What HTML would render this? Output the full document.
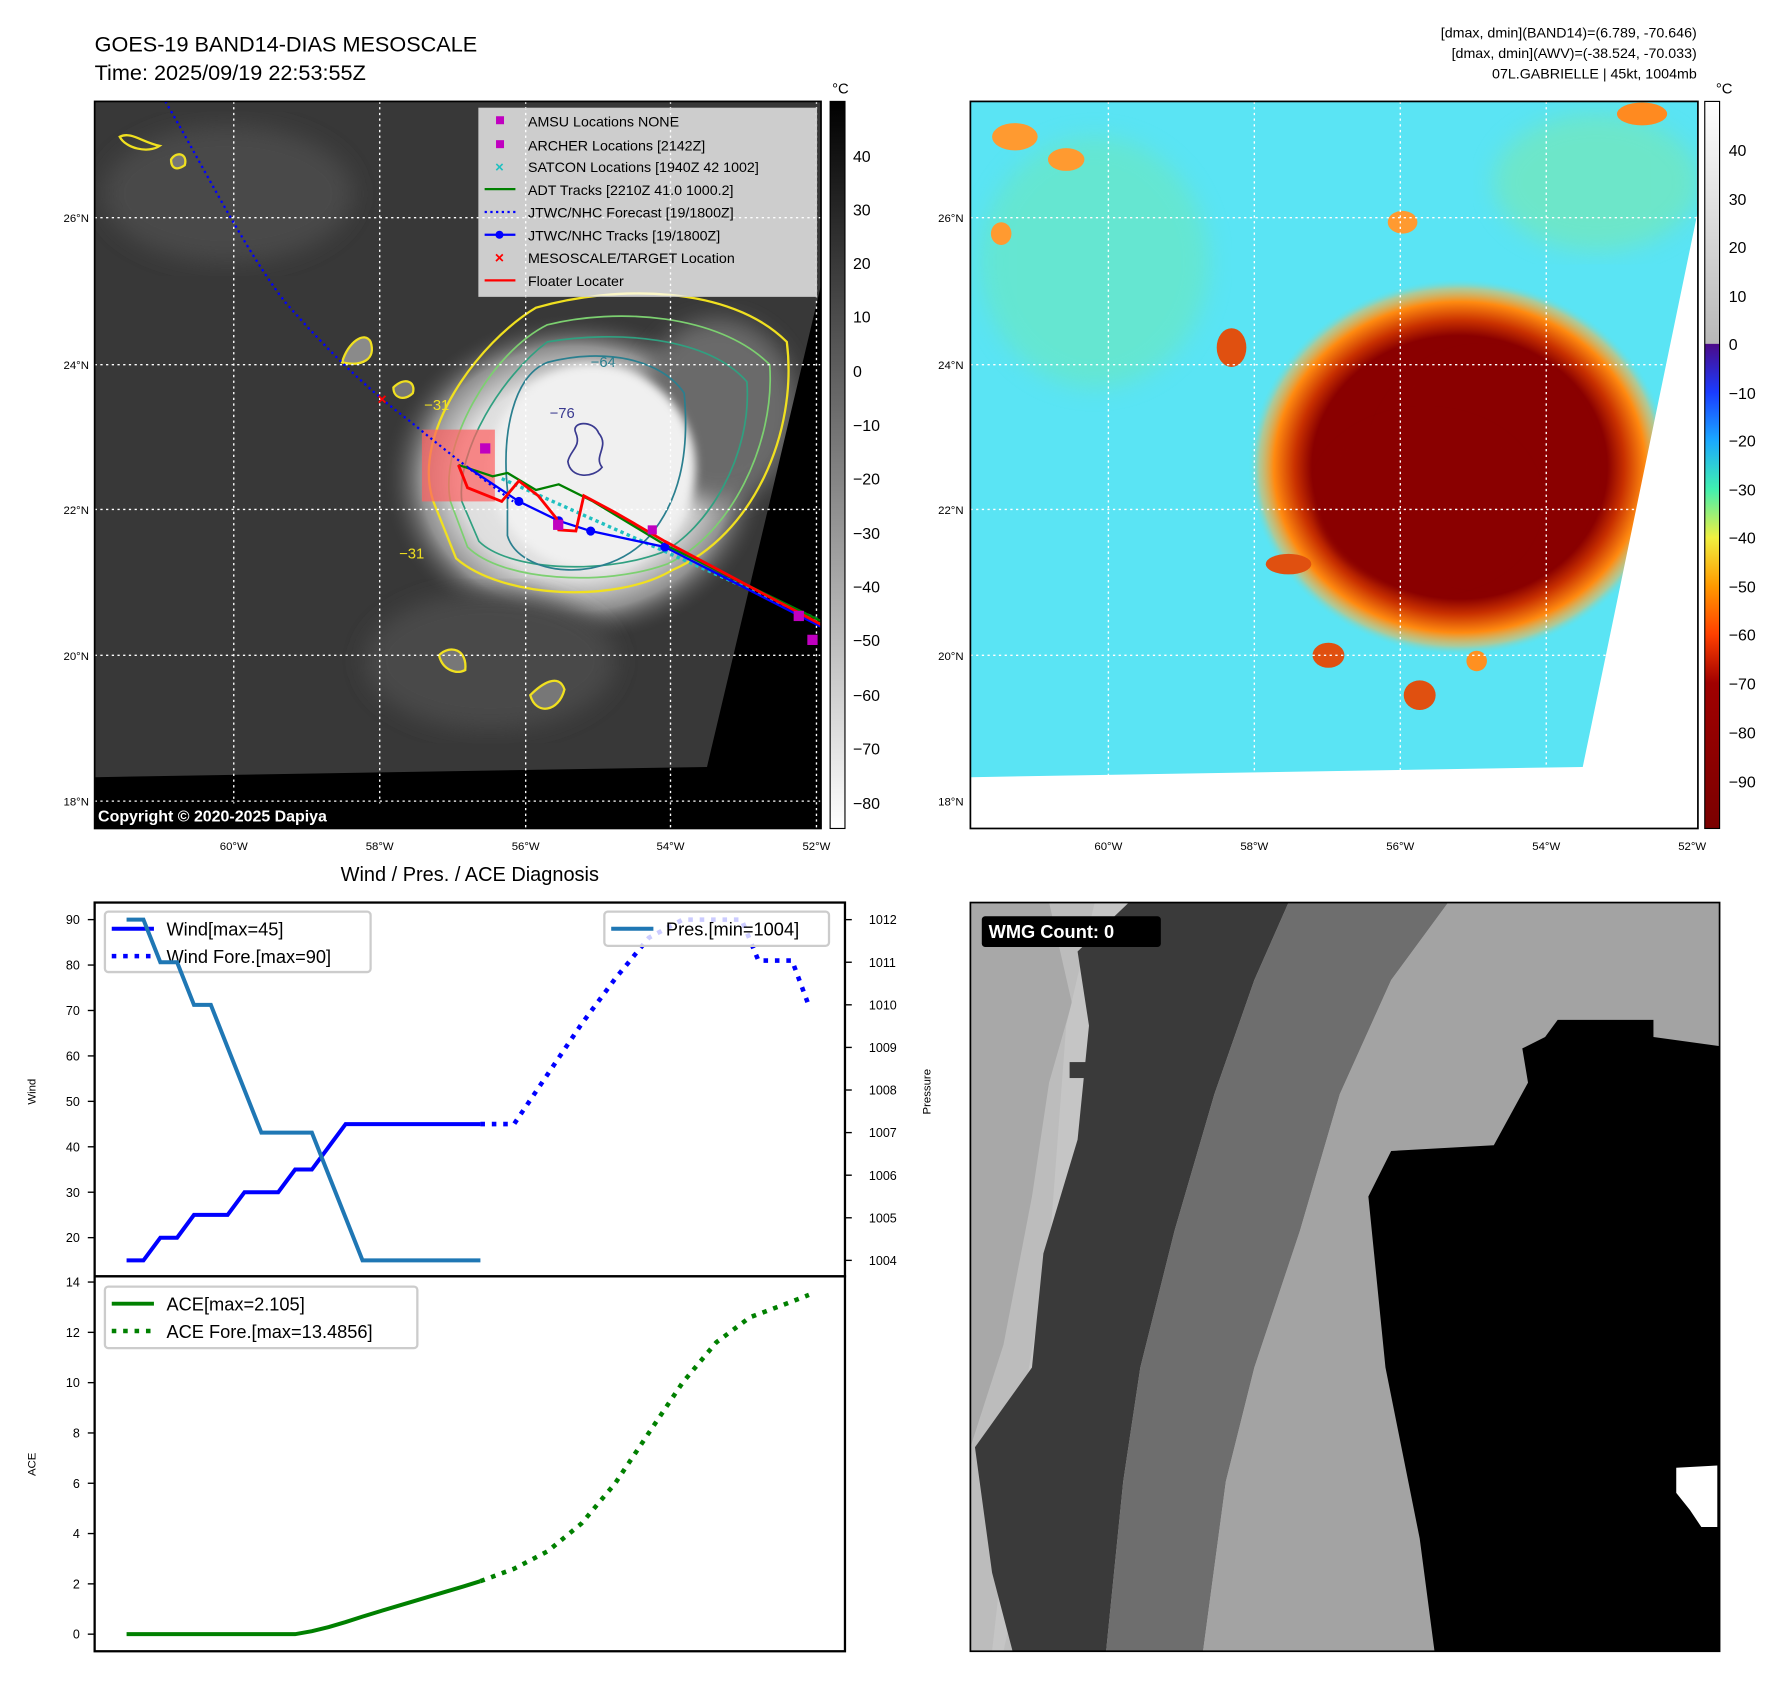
<!DOCTYPE html>
<html><head><meta charset="utf-8">
<style>
html,body{margin:0;padding:0;background:#fff;}
svg{display:block;font-family:"Liberation Sans","DejaVu Sans",sans-serif;}
</style></head>
<body>
<svg id="fig" width="1788" height="1690" viewBox="0 0 1568 1483" preserveAspectRatio="none" xmlns="http://www.w3.org/2000/svg">
<defs>
  <linearGradient id="cbGray" x1="0" y1="0" x2="0" y2="1">
    <stop offset="0" stop-color="#000"/><stop offset="1" stop-color="#fff"/>
  </linearGradient>
  <linearGradient id="cbColor" x1="0" y1="0" x2="0" y2="1">
    <stop offset="0" stop-color="#ffffff"/>
    <stop offset="0.333" stop-color="#b8b8b8"/>
    <stop offset="0.334" stop-color="#4b0a8a"/>
    <stop offset="0.40" stop-color="#1a3cff"/>
    <stop offset="0.466" stop-color="#1aa8ff"/>
    <stop offset="0.533" stop-color="#40f0b0"/>
    <stop offset="0.60" stop-color="#f0f040"/>
    <stop offset="0.666" stop-color="#ff9a00"/>
    <stop offset="0.733" stop-color="#ff4000"/>
    <stop offset="0.80" stop-color="#a00000"/>
    <stop offset="1" stop-color="#7a0000"/>
  </linearGradient>
  <radialGradient id="stormGray" cx="0.5" cy="0.5" r="0.5">
    <stop offset="0" stop-color="#f0f0f0"/><stop offset="0.6" stop-color="#dedede"/>
    <stop offset="0.8" stop-color="#909090"/><stop offset="1" stop-color="#383838" stop-opacity="0"/>
  </radialGradient>
  <radialGradient id="stormColor" cx="0.5" cy="0.5" r="0.5">
    <stop offset="0" stop-color="#8a0000"/><stop offset="0.7" stop-color="#8a0000"/>
    <stop offset="0.78" stop-color="#c83000"/><stop offset="0.88" stop-color="#ff8a10"/>
    <stop offset="0.95" stop-color="#ffb040" stop-opacity="0.5"/><stop offset="1" stop-color="#60e0e0" stop-opacity="0"/>
  </radialGradient>
  <filter id="blur4"><feGaussianBlur stdDeviation="4"/></filter>
  <filter id="blur10"><feGaussianBlur stdDeviation="10"/></filter>
  <clipPath id="clipL"><rect x="83" y="89" width="637" height="638"/></clipPath>
  <clipPath id="clipR"><rect x="851" y="89" width="638" height="638"/></clipPath>
</defs>

<!-- Titles -->
<text x="83" y="45" font-size="19">GOES-19 BAND14-DIAS MESOSCALE</text>
<text x="83" y="70" font-size="19">Time: 2025/09/19 22:53:55Z</text>
<g font-size="12.5" text-anchor="end">
  <text x="1488" y="33">[dmax, dmin](BAND14)=(6.789, -70.646)</text>
  <text x="1488" y="51">[dmax, dmin](AWV)=(-38.524, -70.033)</text>
  <text x="1488" y="69">07L.GABRIELLE | 45kt, 1004mb</text>
</g>

<!-- LEFT MAP -->
<g clip-path="url(#clipL)">
  <rect x="83" y="89" width="637" height="638" fill="#383838"/>
  <ellipse cx="200" cy="170" rx="110" ry="60" fill="#484848" filter="url(#blur10)"/>
  <ellipse cx="505" cy="420" rx="170" ry="145" fill="url(#stormGray)"/>
  <ellipse cx="430" cy="580" rx="110" ry="60" fill="#4a4a4a" filter="url(#blur10)"/>
  <ellipse cx="630" cy="360" rx="70" ry="80" fill="#6a6a6a" filter="url(#blur10)"/>
  <ellipse cx="520" cy="410" rx="90" ry="90" fill="#f0f0f0" filter="url(#blur4)"/>
  <path d="M380,440 C360,380 420,300 470,270 C540,250 640,250 690,300 C700,380 660,470 590,500 C540,530 440,525 400,490 Z" fill="none" stroke="#f0e020" stroke-width="2"/>
  <path d="M395,440 C385,390 430,310 480,285 C540,270 630,275 675,320 C680,390 640,470 585,495 C530,515 440,510 410,480 Z" fill="none" stroke="#7cd070" stroke-width="1.5"/>
  <path d="M405,440 C400,395 440,330 480,300 C540,290 620,295 655,335 C660,400 620,465 580,485 C525,505 445,500 420,475 Z" fill="none" stroke="#30a080" stroke-width="1.5"/>
  <path d="M445,430 C440,380 450,330 480,318 C530,305 580,315 600,345 C605,400 595,440 570,470 C530,515 455,505 445,470 Z" fill="none" stroke="#2a7f8f" stroke-width="1.5"/>
  <path d="M505,380 C500,370 520,368 525,380 C535,392 520,400 528,410 C520,420 500,420 498,405 C500,395 510,392 505,380 Z" fill="none" stroke="#3a3a90" stroke-width="1.5"/>
  <text x="482" y="367" font-size="13" fill="#3a3a90">−76</text>
  <text x="518" y="322" font-size="13" fill="#2a7f8f">−64</text>
  <text x="372" y="360" font-size="13" fill="#f0e020">−31</text>
  <text x="350" y="490" font-size="13" fill="#f0e020">−31</text>
  <path d="M300,318 C305,300 320,290 325,300 C330,315 318,322 300,318 Z" fill="#8a8a8a" stroke="#f0e020" stroke-width="2"/>
  <path d="M385,575 C395,565 410,570 408,588 C400,592 388,588 385,575 Z" fill="#777" stroke="#f0e020" stroke-width="2"/>
  <path d="M465,610 C475,600 490,590 495,605 C490,625 470,628 465,610 Z" fill="#777" stroke="#f0e020" stroke-width="2"/>
  <path d="M105,120 C115,115 125,125 140,128 C130,135 110,130 105,120 Z" fill="none" stroke="#f0e020" stroke-width="2"/>
  <path d="M150,140 C155,132 165,135 162,145 C155,150 150,148 150,140 Z" fill="#777" stroke="#f0e020" stroke-width="2"/>
  <path d="M345,340 C355,330 365,335 362,345 C355,352 345,350 345,340 Z" fill="#777" stroke="#f0e020" stroke-width="2"/>
  <polygon points="83,682 620,673 720,250 720,727 83,727" fill="#000"/>
  <g stroke="#fff" stroke-width="1.2" stroke-dasharray="2 3">
    <line x1="205" y1="89" x2="205" y2="727"/><line x1="333" y1="89" x2="333" y2="727"/>
    <line x1="461" y1="89" x2="461" y2="727"/><line x1="588" y1="89" x2="588" y2="727"/>
    <line x1="716" y1="89" x2="716" y2="727"/>
    <line x1="83" y1="191" x2="720" y2="191"/><line x1="83" y1="320" x2="720" y2="320"/>
    <line x1="83" y1="447" x2="720" y2="447"/><line x1="83" y1="575" x2="720" y2="575"/>
    <line x1="83" y1="703" x2="720" y2="703"/>
  </g>
  <rect x="370" y="377" width="64" height="63" fill="#ff6060" fill-opacity="0.7"/>
  <path d="M145,89 C175,140 215,220 250,265 C285,305 320,340 360,370 C390,395 420,418 450,440" fill="none" stroke="#0000ff" stroke-width="2" stroke-dasharray="2 3"/>
  <path d="M440,420 L720,545" stroke="#20c0c0" stroke-width="3" stroke-dasharray="3 3" fill="none"/>
  <polyline points="402,408 432,418 445,415 470,430 490,425 520,440 583,478 720,545" fill="none" stroke="#008000" stroke-width="2"/>
  <polyline points="410,410 455,440 490,457 518,466 583,480 720,550" fill="none" stroke="#0000ff" stroke-width="2"/>
  <g fill="#0000ff"><circle cx="455" cy="440" r="4"/><circle cx="490" cy="457" r="4"/><circle cx="518" cy="466" r="4"/><circle cx="583" cy="480" r="4"/><circle cx="702" cy="541" r="4"/></g>
  <polyline points="402,408 410,428 440,440 455,422 472,435 488,455 490,465 505,466 512,435 540,450 583,475 720,548" fill="none" stroke="#ff0000" stroke-width="2.5"/>
  <g fill="#c000c0"><rect x="421" y="389" width="9" height="9"/><rect x="485" y="456" width="9" height="9"/><rect x="568" y="461" width="8" height="8"/><rect x="696" y="536" width="9" height="9"/><rect x="708" y="557" width="9" height="9"/></g>
  <text x="335" y="355" font-size="14" fill="#ff0000" text-anchor="middle" font-weight="bold">×</text>
  <rect x="83" y="705" width="272" height="22" fill="#000"/>
  <text x="86" y="721" font-size="14" font-weight="bold" fill="#fff">Copyright © 2020-2025 Dapiya</text>
</g>
<rect x="83" y="89" width="637" height="638" fill="none" stroke="#000" stroke-width="1.5"/>
<g font-size="12.5">
  <rect x="420" y="95" width="296" height="165" fill="#fff" fill-opacity="0.75" stroke="#ccc"/>
  <rect x="435" y="102" width="7" height="7" fill="#c000c0"/><text x="463" y="111">AMSU Locations NONE</text>
  <rect x="435" y="123" width="7" height="7" fill="#c000c0"/><text x="463" y="132">ARCHER Locations [2142Z]</text>
  <text x="438" y="151" fill="#20c0c0" text-anchor="middle" font-size="13" font-weight="bold">×</text><text x="463" y="151">SATCON Locations [1940Z 42 1002]</text>
  <line x1="425" y1="166" x2="452" y2="166" stroke="#008000" stroke-width="2"/><text x="463" y="171">ADT Tracks [2210Z 41.0 1000.2]</text>
  <line x1="425" y1="186" x2="452" y2="186" stroke="#0000ff" stroke-width="2" stroke-dasharray="2 3"/><text x="463" y="191">JTWC/NHC Forecast [19/1800Z]</text>
  <line x1="425" y1="206" x2="452" y2="206" stroke="#0000ff" stroke-width="2"/><circle cx="438" cy="206" r="3.5" fill="#0000ff"/><text x="463" y="211">JTWC/NHC Tracks [19/1800Z]</text>
  <text x="438" y="231" fill="#ff0000" text-anchor="middle" font-size="14" font-weight="bold">×</text><text x="463" y="231">MESOSCALE/TARGET Location</text>
  <line x1="425" y1="246" x2="452" y2="246" stroke="#ff0000" stroke-width="2"/><text x="463" y="251">Floater Locater</text>
</g>
<g font-size="10" text-anchor="end">
  <text x="78" y="195">26°N</text><text x="78" y="324">24°N</text><text x="78" y="451">22°N</text><text x="78" y="579">20°N</text><text x="78" y="707">18°N</text>
</g>
<g font-size="10" text-anchor="middle">
  <text x="205" y="746">60°W</text><text x="333" y="746">58°W</text><text x="461" y="746">56°W</text><text x="588" y="746">54°W</text><text x="716" y="746">52°W</text>
</g>
<g>
  <rect x="728" y="89" width="13" height="638" fill="url(#cbGray)" stroke="#000" stroke-width="1"/>
  <text x="737" y="82" font-size="13" text-anchor="middle">°C</text>
  <g font-size="14">
    <text x="748" y="142">40</text><text x="748" y="189">30</text><text x="748" y="236">20</text><text x="748" y="283">10</text><text x="748" y="331">0</text>
    <text x="748" y="378">−10</text><text x="748" y="425">−20</text><text x="748" y="473">−30</text><text x="748" y="520">−40</text><text x="748" y="567">−50</text>
    <text x="748" y="615">−60</text><text x="748" y="662">−70</text><text x="748" y="710">−80</text>
  </g>
</g>

<!-- RIGHT MAP -->
<g clip-path="url(#clipR)">
  <rect x="851" y="89" width="638" height="638" fill="#5ae4f4"/>
  <ellipse cx="960" cy="230" rx="100" ry="110" fill="#70e8b0" filter="url(#blur10)" opacity="0.5"/>
  <ellipse cx="1400" cy="160" rx="90" ry="60" fill="#80e8a0" filter="url(#blur10)" opacity="0.5"/>
  <ellipse cx="1280" cy="410" rx="185" ry="165" fill="url(#stormColor)"/>
  <ellipse cx="1300" cy="410" rx="95" ry="100" fill="#8a0000" filter="url(#blur4)"/>
  <ellipse cx="1250" cy="440" rx="95" ry="75" fill="#8a0000" filter="url(#blur4)"/>
  <ellipse cx="1080" cy="305" rx="13" ry="17" fill="#e05010"/>
  <ellipse cx="1130" cy="495" rx="20" ry="9" fill="#e05010"/>
  <ellipse cx="1165" cy="575" rx="14" ry="11" fill="#e05010"/>
  <ellipse cx="1245" cy="610" rx="14" ry="13" fill="#e05010"/>
  <ellipse cx="1295" cy="580" rx="9" ry="9" fill="#ff9020"/>
  <ellipse cx="890" cy="120" rx="20" ry="12" fill="#ff9a30"/>
  <ellipse cx="935" cy="140" rx="16" ry="10" fill="#ff9a30"/>
  <ellipse cx="1230" cy="195" rx="13" ry="10" fill="#ff9a30"/>
  <ellipse cx="1440" cy="100" rx="22" ry="10" fill="#ff8a20"/>
  <ellipse cx="878" cy="205" rx="9" ry="10" fill="#ff9a30"/>
  <polygon points="851,682 1388,673 1489,185 1489,727 851,727" fill="#fff"/>
  <g stroke="#fff" stroke-width="1.2" stroke-dasharray="2 3">
    <line x1="972" y1="89" x2="972" y2="727"/><line x1="1100" y1="89" x2="1100" y2="727"/>
    <line x1="1228" y1="89" x2="1228" y2="727"/><line x1="1356" y1="89" x2="1356" y2="727"/>
    <line x1="851" y1="191" x2="1489" y2="191"/><line x1="851" y1="320" x2="1489" y2="320"/>
    <line x1="851" y1="447" x2="1489" y2="447"/><line x1="851" y1="575" x2="1489" y2="575"/>
  </g>
</g>
<rect x="851" y="89" width="638" height="638" fill="none" stroke="#000" stroke-width="1.5"/>
<g font-size="10" text-anchor="end">
  <text x="845" y="195">26°N</text><text x="845" y="324">24°N</text><text x="845" y="451">22°N</text><text x="845" y="579">20°N</text><text x="845" y="707">18°N</text>
</g>
<g font-size="10" text-anchor="middle">
  <text x="972" y="746">60°W</text><text x="1100" y="746">58°W</text><text x="1228" y="746">56°W</text><text x="1356" y="746">54°W</text><text x="1484" y="746">52°W</text>
</g>
<g>
  <rect x="1495" y="89" width="13" height="638" fill="url(#cbColor)" stroke="#000" stroke-width="1"/>
  <text x="1512" y="82" font-size="13" text-anchor="middle">°C</text>
  <g font-size="14">
    <text x="1516" y="137">40</text><text x="1516" y="180">30</text><text x="1516" y="222">20</text><text x="1516" y="265">10</text><text x="1516" y="307">0</text>
    <text x="1516" y="350">−10</text><text x="1516" y="392">−20</text><text x="1516" y="435">−30</text><text x="1516" y="477">−40</text><text x="1516" y="520">−50</text>
    <text x="1516" y="562">−60</text><text x="1516" y="605">−70</text><text x="1516" y="648">−80</text><text x="1516" y="691">−90</text>
  </g>
</g>

<!-- WMG PANEL -->
<g>
  <rect x="851" y="792" width="657" height="657" fill="#bdbdbd"/>
  <polygon points="851,792 960,792 935,900 920,1100 890,1270 870,1449 851,1449" fill="#a8a8a8"/>
  <polygon points="920,792 990,792 965,900 955,940 975,960 945,1100 920,1270 880,1449 851,1449 851,1270 880,1180 905,1050 920,950 940,880" fill="#c9c9c9" opacity="0.6"/>
  <polygon points="990,792 1130,792 1100,860 1065,960 1030,1080 1000,1200 985,1300 970,1449 888,1449 870,1380 855,1270 905,1200 915,1100 945,1000 955,900 945,835" fill="#3a3a3a"/>
  <polygon points="1130,792 1270,792 1220,860 1175,960 1140,1080 1100,1200 1075,1300 1055,1449 970,1449 985,1300 1000,1200 1030,1080 1065,960 1100,860" fill="#6e6e6e"/>
  <polygon points="1270,792 1508,792 1508,1449 1055,1449 1075,1300 1100,1200 1140,1080 1175,960 1220,860" fill="#a3a3a3"/>
  <polygon points="1366,895 1450,895 1450,910 1508,918 1508,1449 1258,1449 1245,1350 1225,1250 1215,1200 1205,1100 1200,1050 1220,1010 1310,1005 1340,950 1335,920 1355,910" fill="#000"/>
  <polygon points="1470,1288 1506,1286 1506,1340 1492,1340 1482,1325 1470,1310" fill="#fff"/>
  <rect x="938" y="932" width="14" height="14" fill="#3a3a3a"/>
  <rect x="851" y="792" width="657" height="657" fill="none" stroke="#000" stroke-width="1.5"/>
  <rect x="861" y="804" width="157" height="27" rx="3" fill="#000"/>
  <text x="867" y="823" font-size="16" font-weight="bold" fill="#fff">WMG Count: 0</text>
</g>

<text x="412" y="773" font-size="17.5" text-anchor="middle">Wind / Pres. / ACE Diagnosis</text>
<g id="diag"></g>

<script>
const windObsHours=[0,6,12,18,24,30,36,42,48,54,60,66,72,78,84,90,96,102,108,114,120,126];
const windObsValues=[15,15,20,20,25,25,25,30,30,30,35,35,40,45,45,45,45,45,45,45,45,45];
const windForeHours=[126,138,150,162,174,186,198,219,225,237,243];
const windForeValues=[45,45,56,67,77,86,90,90,81,81,71];
const presValues=[1012,1012,1011,1011,1010,1010,1009,1008,1007,1007,1007,1007,1006,1005,1004,1004,1004,1004,1004,1004,1004,1004];
const aceObsValues=[0,0,0,0,0,0,0,0,0,0,0,0.12,0.28,0.48,0.7,0.9,1.1,1.3,1.5,1.7,1.9,2.105];
const aceForeHours=[126,138,150,162,174,186,198,210,222,234,243];
const aceForeValues=[2.105,2.6,3.3,4.4,6.0,8.0,10.0,11.6,12.6,13.1,13.49];
const windTicks=[20,30,40,50,60,70,80,90];
const presTicks=[1004,1005,1006,1007,1008,1009,1010,1011,1012];
const aceTicks=[0,2,4,6,8,10,12,14];

const NS='http://www.w3.org/2000/svg';
const g=document.getElementById('diag');
const X=h=>111+h*2.4625;
const YW=v=>1106-(v-15)*3.987;
const YP=p=>1106-(p-1004)*37.375;
const YA=a=>1434-a*22.07;
function mk(tag,attrs,parent){const e=document.createElementNS(NS,tag);for(const k in attrs)e.setAttribute(k,attrs[k]);(parent||g).appendChild(e);return e;}
function pts(hs,vs,fy){return hs.map((h,i)=>X(h).toFixed(1)+','+fy(vs[i]).toFixed(1)).join(' ');}

let f1=mk('rect',{x:83,y:792,width:658,height:328,fill:'none',stroke:'#000','stroke-width':2});


let f2=mk('rect',{x:83,y:1120,width:658,height:329,fill:'none',stroke:'#000','stroke-width':2});



windTicks.forEach(v=>{
  const t=mk('text',{x:70,y:YW(v)+4,'font-size':11,'text-anchor':'end'});t.textContent=v;
  
  
  mk('line',{x1:77,x2:83,y1:YW(v),y2:YW(v),stroke:'#000','stroke-width':1.2});
});
presTicks.forEach(v=>{
  const t=mk('text',{x:762,y:YP(v)+4,'font-size':11});t.textContent=v;
  
  
  mk('line',{x1:741,x2:747,y1:YP(v),y2:YP(v),stroke:'#000','stroke-width':1.2});
});
aceTicks.forEach(v=>{
  const t=mk('text',{x:70,y:YA(v)+4,'font-size':11,'text-anchor':'end'});t.textContent=v;
  
  
  mk('line',{x1:77,x2:83,y1:YA(v),y2:YA(v),stroke:'#000','stroke-width':1.2});
});
let yl=mk('text',{x:0,y:0,'font-size':10,'text-anchor':'middle',transform:'translate(31,958) rotate(-90)'});yl.textContent='Wind';


let pl=mk('text',{x:0,y:0,'font-size':10,'text-anchor':'middle',transform:'translate(816,958) rotate(-90)'});pl.textContent='Pressure';


let al=mk('text',{x:0,y:0,'font-size':10,'text-anchor':'middle',transform:'translate(31,1285) rotate(-90)'});al.textContent='ACE';



let wl=mk('polyline',{points:pts(windObsHours,windObsValues,YW),fill:'none',stroke:'#0000ff','stroke-width':3.5});


let wf=mk('polyline',{points:pts(windForeHours,windForeValues,YW),fill:'none',stroke:'#0000ff','stroke-width':4,'stroke-dasharray':'4 6'});



let lg1=mk('g',{});


mk('rect',{x:92,y:800,width:233,height:53,rx:3,fill:'#fff','fill-opacity':0.8,stroke:'#ccc','stroke-width':2},lg1);
mk('line',{x1:98,x2:135,y1:815,y2:815,stroke:'#0000ff','stroke-width':3.5},lg1);
mk('line',{x1:98,x2:135,y1:839,y2:839,stroke:'#0000ff','stroke-width':4,'stroke-dasharray':'4 6'},lg1);
mk('text',{x:146,y:821,'font-size':16},lg1).textContent='Wind[max=45]';
mk('text',{x:146,y:845,'font-size':16},lg1).textContent='Wind Fore.[max=90]';

let prl=mk('polyline',{points:pts(windObsHours,presValues,YP),fill:'none',stroke:'#1f77b4','stroke-width':3.5});


let lg2=mk('g',{});


mk('rect',{x:530,y:800,width:197,height:30,rx:3,fill:'#fff','fill-opacity':0.8,stroke:'#ccc','stroke-width':2},lg2);
mk('line',{x1:536,x2:573,y1:815,y2:815,stroke:'#1f77b4','stroke-width':3.5},lg2);
mk('text',{x:584,y:821,'font-size':16},lg2).textContent='Pres.[min=1004]';

let acl=mk('polyline',{points:pts(windObsHours,aceObsValues,YA),fill:'none',stroke:'#008000','stroke-width':3.5});


let acf=mk('polyline',{points:pts(aceForeHours,aceForeValues,YA),fill:'none',stroke:'#008000','stroke-width':4,'stroke-dasharray':'4 6'});


let lg3=mk('g',{});


mk('rect',{x:92,y:1129,width:274,height:54,rx:3,fill:'#fff','fill-opacity':0.8,stroke:'#ccc','stroke-width':2},lg3);
mk('line',{x1:98,x2:135,y1:1144,y2:1144,stroke:'#008000','stroke-width':3.5},lg3);
mk('line',{x1:98,x2:135,y1:1168,y2:1168,stroke:'#008000','stroke-width':4,'stroke-dasharray':'4 6'},lg3);
mk('text',{x:146,y:1150,'font-size':16},lg3).textContent='ACE[max=2.105]';
mk('text',{x:146,y:1174,'font-size':16},lg3).textContent='ACE Fore.[max=13.4856]';
</script>
</svg>
</body></html>
